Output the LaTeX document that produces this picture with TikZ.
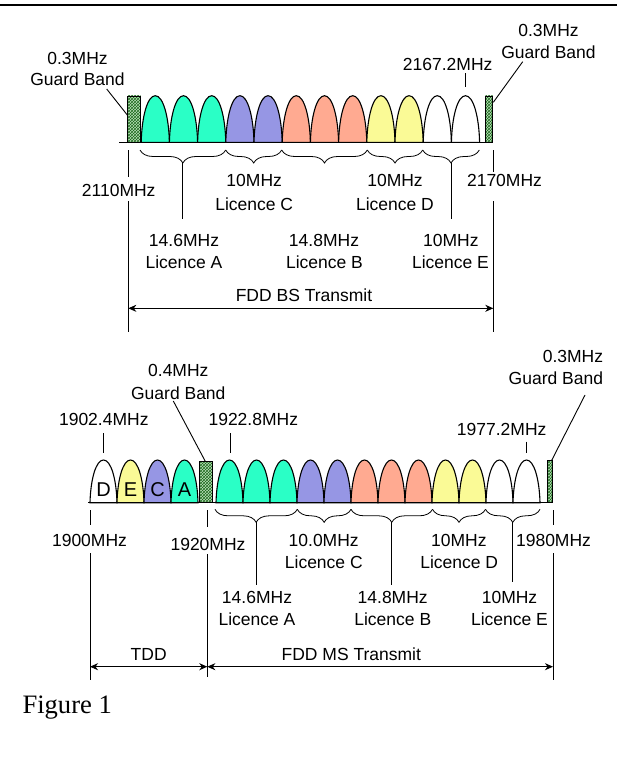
\documentclass[tikz,border=0pt]{standalone}
\usepackage{fontspec}
\setmainfont{Liberation Sans}
\newfontfamily\figserif{Liberation Serif}
\usetikzlibrary{arrows.meta,patterns,decorations.pathreplacing}
\definecolor{colA}{RGB}{42,255,198}
\definecolor{colC}{RGB}{150,150,228}
\definecolor{colB}{RGB}{255,170,145}
\definecolor{colD}{RGB}{250,250,150}
\definecolor{colE}{RGB}{255,255,255}
\definecolor{guardfill}{RGB}{185,225,185}
\definecolor{guardline}{RGB}{30,105,30}
\newcommand\mycarrier[5]{%
  \filldraw[carrier, fill=#5] (#1,#4) .. controls ({#1+0.6},{#4-0.55*(#4-#3)}) and ({#1+0.22*#2},#3) .. ({#1+0.5*#2},#3) .. controls ({#1+0.78*#2},#3) and ({#1+#2-0.6},{#4-0.55*(#4-#3)}) .. ({#1+#2},#4) -- cycle;}
\begin{document}
\begin{tikzpicture}[x=1pt,y=-1pt,
  lbl/.style={font=\fontsize{17.5}{21}\selectfont, inner sep=0pt, anchor=base},
  letter/.style={font=\fontsize{20}{24}\selectfont, inner sep=0pt, anchor=base},
  carrier/.style={draw=black, line width=1.1pt},
  guard/.style={draw=black, line width=0.6pt, preaction={fill=guardfill}, pattern=crosshatch, pattern color=guardline},
  thin/.style={line width=0.9pt},
  brc/.style={line width=0.8pt, decorate, decoration={brace, amplitude=13pt, mirror}},
  dimarrow/.style={line width=0.9pt, arrows={Stealth[length=8pt,width=7pt,inset=2.5pt]-Stealth[length=8pt,width=7pt,inset=2.5pt]}}]
\useasboundingbox (0,0) rectangle (617,765);

% top rule
\draw[line width=1.2pt] (0,5) -- (617,5);

% ================= TOP: FDD BS Transmit =================
\foreach \c [count=\i from 0] in {colA,colA,colA,colC,colC,colB,colB,colB,colD,colD,colE,colE}
  {\mycarrier{141.2+\i*28.2}{28.2}{95.7}{142.3}{\c}}
\draw[guard] (127.7,96) rectangle (140.7,142.3);
\draw[guard] (485.5,96) rectangle (492.7,142.3);
\draw[thin] (119,142.3) -- (493.3,142.3);

% guard band labels
\node[lbl] (tgl1) at (77.5,64.5) {0.3MHz};
\node[lbl] (tgl2) at (77.5,85.5) {Guard Band};
\draw[thin] (106.7,89) -- (127.3,115);
\node[lbl] (tgr1) at (548.5,36.7) {0.3MHz};
\node[lbl] (tgr2) at (548.5,58.3) {Guard Band};
\draw[thin] (493.3,102.3) -- (522.7,61.7);
\node[lbl] (t21672) at (447.7,71) {2167.2MHz};
\draw[thin] (465.5,73.3) -- (465.5,86.7);

% vertical dimension lines
\draw[thin] (128.3,150) -- (128.3,176.7) (128.3,201) -- (128.3,331.7);
\draw[thin] (493.3,150) -- (493.3,171.7) (493.3,201) -- (493.3,331.7);
\node[lbl] (t2110) at (118.7,196.7) {2110MHz};
\node[lbl] (t2170) at (504.5,186.7) {2170MHz};

% braces
\draw[brc] (140,150) -- (225.7,150);
\draw[brc] (225.7,150) -- (281.7,150);
\draw[brc] (281.7,150) -- (367.3,150);
\draw[brc] (367.3,150) -- (422.7,150);
\draw[brc] (422.7,150) -- (479.3,150);
\draw[thin] (182.9,163) -- (182.9,219.3);
\draw[thin] (451,163) -- (451,219.3);

\node[lbl] (tC1) at (254.2,186.7) {10MHz};
\node[lbl] (tC2) at (254.2,210) {Licence C};
\node[lbl] (tD1) at (395,186.7) {10MHz};
\node[lbl] (tD2) at (395,210) {Licence D};
\node[lbl] (tA1) at (184,246.7) {14.6MHz};
\node[lbl] (tA2) at (184,268.3) {Licence A};
\node[lbl] (tB1) at (324,246.7) {14.8MHz};
\node[lbl] (tB2) at (324.5,268.3) {Licence B};
\node[lbl] (tE1) at (450.8,246.7) {10MHz};
\node[lbl] (tE2) at (450.5,268.3) {Licence E};

\node[lbl] (tfdd) at (304,301.7) {FDD BS Transmit};
\draw[dimarrow] (128.3,308.3) -- (493.3,308.3);

% ================= BOTTOM: TDD + FDD MS Transmit =================
\foreach \c [count=\i from 0] in {colE,colD,colC,colA}
  {\mycarrier{90+\i*27}{27}{460}{502.7}{\c}}
\foreach \c [count=\i from 0] in {colA,colA,colA,colC,colC,colB,colB,colB,colD,colD,colE,colE}
  {\mycarrier{216+\i*27}{27}{460}{502.7}{\c}}
\draw[guard] (199.3,461.7) rectangle (212.7,502.7);
\draw[guard] (547.3,460.7) rectangle (552.7,502.7);
\draw[thin] (88.3,502.7) -- (553.3,502.7);

\node[letter] (lD) at (103.5,496.7) {D};
\node[letter] (lE) at (130.5,496.7) {E};
\node[letter] (lC) at (157.5,496.7) {C};
\node[letter] (lA) at (184.5,496.7) {A};

\node[lbl] (bg1) at (178.3,376.7) {0.4MHz};
\node[lbl] (bg2) at (178.3,399.3) {Guard Band};
\draw[thin] (173.3,401) -- (205.5,461.7);
\node[lbl, anchor=base east] (bgr1) at (603.3,362.5) {0.3MHz};
\node[lbl, anchor=base east] (bgr2) at (603.3,384) {Guard Band};
\draw[thin] (585,395) -- (551.5,460.7);

\node[lbl] (b19024) at (103.8,425) {1902.4MHz};
\draw[thin] (103.3,433.3) -- (103.3,453.3);
\node[lbl] (b19228) at (253.3,425) {1922.8MHz};
\draw[thin] (230,433.3) -- (230,453.3);
\node[lbl] (b19772) at (501.7,435) {1977.2MHz};
\draw[thin] (526.7,441.7) -- (526.7,453.3);

% vertical dimension lines
\draw[thin] (90,510) -- (90,525) (90,553.3) -- (90,680);
\draw[thin] (207.3,510) -- (207.3,526.7) (207.3,554) -- (207.3,676.7);
\draw[thin] (553,510) -- (553,525) (553,553) -- (553,680);
\node[lbl] (b1900) at (89.5,546.7) {1900MHz};
\node[lbl] (b1920) at (208,550) {1920MHz};
\node[lbl] (b1980) at (553.5,546.7) {1980MHz};

% braces
\draw[brc] (215,509.3) -- (297.3,509.3);
\draw[brc] (297.3,509.3) -- (351,509.3);
\draw[brc] (351,509.3) -- (432.5,509.3);
\draw[brc] (432.5,509.3) -- (485.5,509.3);
\draw[brc] (485.5,509.3) -- (540,509.3);
\draw[thin] (256.2,522.3) -- (256.2,585);
\draw[thin] (391.7,522.3) -- (391.7,585);
\draw[thin] (512.7,522.3) -- (512.7,582);

\node[lbl] (bC1) at (323.7,546.7) {10.0MHz};
\node[lbl] (bC2) at (323.8,568.3) {Licence C};
\node[lbl] (bD1) at (458.8,546.7) {10MHz};
\node[lbl] (bD2) at (459.2,568.3) {Licence D};
\node[lbl] (bA1) at (257,603.3) {14.6MHz};
\node[lbl] (bA2) at (257,625) {Licence A};
\node[lbl] (bB1) at (392.7,603.3) {14.8MHz};
\node[lbl] (bB2) at (392.8,625) {Licence B};
\node[lbl] (bE1) at (509.5,603.3) {10MHz};
\node[lbl] (bE2) at (509.5,625) {Licence E};

\node[lbl] (btdd) at (148.7,660) {TDD};
\node[lbl] (bfdd) at (351.3,660) {FDD MS Transmit};
\draw[dimarrow] (90,666.7) -- (207.3,666.7);
\draw[dimarrow] (207.3,666.7) -- (553,666.7);

\node[font=\figserif\fontsize{26.6}{30}\selectfont, anchor=base west, inner sep=0pt] (fig) at (22.3,713.3) {Figure 1};
\end{tikzpicture}
\end{document}
